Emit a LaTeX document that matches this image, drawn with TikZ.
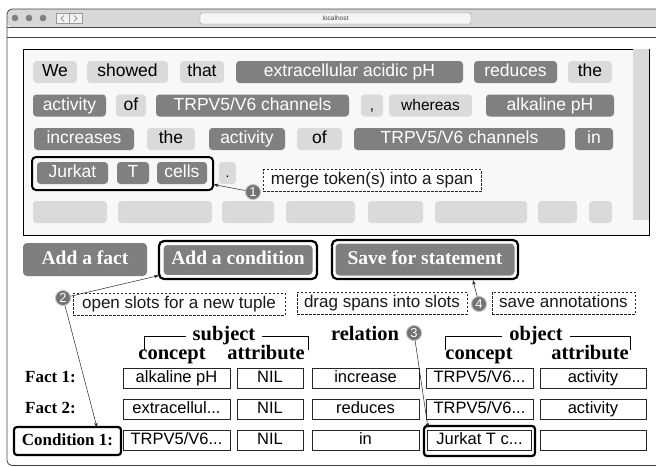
\documentclass[tikz,border=0pt]{standalone}
\usepackage{fontspec}
\setmainfont{Liberation Serif}
\newfontfamily\sansf{Liberation Sans}
\usetikzlibrary{arrows.meta}
\definecolor{tokl}{HTML}{DADADA}
\definecolor{tokd}{HTML}{808080}
\definecolor{btnc}{HTML}{7F7F7F}
\definecolor{barc}{HTML}{D8D8D8}
\definecolor{panelc}{HTML}{F8F8F8}
\definecolor{numc}{HTML}{727272}
\definecolor{framec}{HTML}{444444}
\begin{document}
\begin{tikzpicture}[x=1pt,y=-1pt,
  tok/.style={rounded corners=3.5pt, minimum height=22pt, inner sep=0pt,
    font=\sansf\fontsize{17.5}{17.5}\selectfont, text height=12.5pt, text depth=3.5pt},
  lt/.style={tok, fill=tokl, text=black},
  dk/.style={tok, fill=tokd, text=white},
  blank/.style={rounded corners=3.5pt, minimum height=22pt, inner sep=0pt, fill=tokl},
  btn/.style={fill=btnc, rounded corners=4pt, inner sep=0pt, text=white,
    font=\bfseries\fontsize{19.5}{19.5}\selectfont, text height=13pt, text depth=4pt},
  selbox/.style={draw=black, line width=2.2pt, rounded corners=5pt, inner sep=0pt},
  note/.style={draw=black!85, dash pattern=on 2.5pt off 1.5pt, line width=0.7pt, fill=white,
    minimum height=22pt, inner sep=0pt, text=black!90,
    font=\sansf\fontsize{17}{17}\selectfont, text height=12pt, text depth=4pt},
  num/.style={circle, fill=numc, draw=black!25, line width=0.9pt, text=white, inner sep=0pt,
    minimum size=15pt, font=\sansf\fontsize{13}{13}\selectfont},
  arr/.style={-{Stealth[length=5pt,width=3.5pt]}, line width=0.5pt, draw=black!85},
  hdr/.style={inner sep=0pt, font=\bfseries\fontsize{20.5}{20.5}\selectfont, text height=13.5pt, text depth=4pt},
  hdrw/.style={hdr, fill=white, inner xsep=7pt},
  rowlab/.style={inner sep=0pt, font=\bfseries\fontsize{17}{17}\selectfont, text height=11.5pt, text depth=3pt},
  cell/.style={draw=black!85, line width=0.8pt, fill=white, minimum height=20pt, inner sep=0pt,
    font=\sansf\fontsize{16.5}{16.5}\selectfont, text height=12pt, text depth=3pt}
]
\useasboundingbox (0,0) rectangle (656,466);
\fill[white] (0,0) rectangle (656,466);

% browser frame
\fill[barc, rounded corners=5pt] (7,27) -- (7,9) -- (664,9) -- (664,27) -- cycle;
\draw[framec, line width=0.8pt, rounded corners=5pt] (664,465.5) -- (7,465.5) -- (7,9) -- (664,9);
\draw[framec, line width=0.8pt] (7,27) -- (664,27);
\draw[framec, line width=0.8pt] (7,37) -- (664,37);
\foreach \xx in {15,29,43} \fill[black!50] (\xx,18) circle (3.3pt);
\node[draw=black!40, fill=black!5, minimum width=13pt, minimum height=10pt, inner sep=0pt] (navl) at (62.5,18.5) {};
\node[draw=black!40, fill=black!5, minimum width=13pt, minimum height=10pt, inner sep=0pt] (navr) at (75.5,18.5) {};
\draw[black!55, line width=0.6pt] (64,15.5) -- (61,18.5) -- (64,21.5);
\draw[black!55, line width=0.6pt] (74,15.5) -- (77,18.5) -- (74,21.5);
\node[draw=black!40, fill=black!4, rounded corners=2pt, minimum width=271pt, minimum height=11pt, inner sep=0pt,
  font=\sansf\fontsize{6.5}{6.5}\selectfont, text=black!75] (addr) at (335.5,18.5) {localhost};

% text panel
\node[draw=black, line width=0.8pt, fill=panelc, minimum width=626pt, minimum height=186pt, inner sep=0pt] (panel) at (336,142) {};
\fill[tokl] (633,49.4) rectangle (648.6,220);

% row 1
\node[lt, minimum width=44] (w1) at (55,72) {We};
\node[lt, minimum width=81] (w2) at (127.5,72) {showed};
\node[lt, minimum width=44] (w3) at (202,72) {that};
\node[dk, minimum width=227] (w4) at (349.5,72) {extracellular acidic pH};
\node[dk, minimum width=83] (w5) at (515.5,72) {reduces};
\node[lt, minimum width=44] (w6) at (590,72) {the};
% row 2
\node[dk, minimum width=73] (w7) at (69.5,105.5) {activity};
\node[lt, minimum width=30] (w8) at (131,105.5) {of};
\node[dk, minimum width=193] (w9) at (252.5,105.5) {TRPV5/V6 channels};
\node[lt, minimum width=22, font=\sansf\fontsize{15}{15}\selectfont] (w10) at (372,105.5) {,};
\node[lt, minimum width=83, font=\sansf\fontsize{15.5}{15.5}\selectfont] (w11) at (430.5,105.5) {whereas};
\node[dk, minimum width=128] (w12) at (550,105.5) {alkaline pH};
% row 3
\node[dk, minimum width=100] (w13) at (84,139) {increases};
\node[lt, minimum width=48] (w14) at (171,139) {the};
\node[dk, minimum width=76] (w15) at (247,139) {activity};
\node[lt, minimum width=45] (w16) at (319.5,139) {of};
\node[dk, minimum width=211] (w17) at (459.5,139) {TRPV5/V6 channels};
\node[dk, minimum width=38] (w18) at (594,139) {in};
% row 4
\node[dk, minimum width=71] (w19) at (72.5,173) {Jurkat};
\node[dk, minimum width=32] (w20) at (133,173) {T};
\node[dk, minimum width=50] (w21) at (182,173) {cells};
\node[lt, minimum width=17, font=\sansf\fontsize{14}{14}\selectfont] (w22) at (227.5,173) {.};
\node[selbox, line width=2pt, rounded corners=4pt, minimum width=181pt, minimum height=33pt] (span) at (122.5,173.5) {};
% row 5 (blank slots)
\node[blank, minimum width=74] (b1) at (70,212) {};
\node[blank, minimum width=94] (b2) at (165,212) {};
\node[blank, minimum width=52] (b3) at (248,212) {};
\node[blank, minimum width=69] (b4) at (320.5,212) {};
\node[blank, minimum width=55] (b5) at (395.5,212) {};
\node[blank, minimum width=92] (b6) at (481,212) {};
\node[blank, minimum width=39] (b7) at (557.5,212) {};
\node[blank, minimum width=23] (b8) at (600.5,212) {};

% note 1
\node[note, minimum width=218] (note1) at (372,180.5) {merge token(s) into a span};
\node[num] (n1) at (253,192) {1};
\coordinate (t1) at (213.5,184.5);
\draw[arr] (n1) -- (t1);

% buttons
\node[btn, minimum width=124pt, minimum height=33pt] (fact) at (85,259.5) {Add a fact};
\node[btn, draw=white, line width=1pt, minimum width=150pt, minimum height=31pt] (cond) at (238,260) {Add a condition};
\node[selbox, minimum width=158pt, minimum height=38pt] (condbox) at (238,260) {};
\node[btn, draw=white, line width=1pt, minimum width=180pt, minimum height=33pt] (save) at (425,259.5) {Save for statement};
\node[selbox, minimum width=186pt, minimum height=39pt] (savebox) at (425,259.5) {};

% notes row
\node[note, minimum width=212] (note2) at (179,304) {open slots for a new tuple};
\node[note, minimum width=170] (note3) at (382,303) {drag spans into slots};
\node[note, minimum width=143] (note4) at (563.5,303) {save annotations};
\node[num] (n2) at (63,298) {2};
\node[num] (n4) at (479,304) {4};

% headers
\draw[black, line width=0.7pt] (144,350) -- (144,336) -- (308,336) -- (308,350);
\node[hdrw] (hsub) at (224,336) {subject};
\node[hdr] (hrel) at (365,336) {relation};
\draw[black, line width=0.7pt] (445,350) -- (445,336) -- (630,336) -- (630,350);
\node[hdrw] (hobj) at (536,336) {object};
\node[num] (n3) at (414,333) {3};
\node[hdr] (hc1) at (172,355) {concept};
\node[hdr] (ha1) at (266,355) {attribute};
\node[hdr] (hc2) at (479,355) {concept};
\node[hdr] (ha2) at (590,355) {attribute};

% table
\node[rowlab, anchor=west] (f1) at (25,378) {Fact 1:};
\node[rowlab, anchor=west] (f2) at (25,409) {Fact 2:};
\node[rowlab, draw=black, line width=2.2pt, rounded corners=3pt, minimum width=107pt, minimum height=28pt] (c1) at (67.5,441) {Condition 1:};

\node[cell, minimum width=107] (r1a) at (176.5,378) {alkaline pH};
\node[cell, minimum width=66] (r1b) at (270,378) {NIL};
\node[cell, minimum width=107] (r1c) at (365.5,378) {increase};
\node[cell, minimum width=107] (r1d) at (479.5,378) {TRPV5/V6...};
\node[cell, minimum width=106] (r1e) at (593,378) {activity};

\node[cell, minimum width=107] (r2a) at (176.5,409) {extracellul...};
\node[cell, minimum width=66] (r2b) at (270,409) {NIL};
\node[cell, minimum width=107] (r2c) at (365.5,409) {reduces};
\node[cell, minimum width=107] (r2d) at (479.5,409) {TRPV5/V6...};
\node[cell, minimum width=106] (r2e) at (593,409) {activity};

\node[cell, minimum width=107] (r3a) at (176.5,440) {TRPV5/V6...};
\node[cell, minimum width=66] (r3b) at (270,440) {NIL};
\node[cell, minimum width=107] (r3c) at (365.5,440) {in};
\node[cell, minimum width=104] (r3d) at (479.5,440) {Jurkat T c...};
\node[cell, minimum width=106] (r3e) at (593,440) {};
\node[selbox, line width=2.2pt, rounded corners=3pt, minimum width=111pt, minimum height=30pt] (jbox) at (479.5,441) {};

% arrows
\coordinate (t2a) at (159,275.5);
\coordinate (t2b) at (97,427.5);
\coordinate (t3) at (428,428);
\coordinate (t4) at (473,280);
\draw[arr] (n2) -- (t2a);
\draw[arr] (n2) -- (t2b);
\draw[arr] (n3) -- (t3);
\draw[arr] (n4) -- (t4);
\end{tikzpicture}
\end{document}
